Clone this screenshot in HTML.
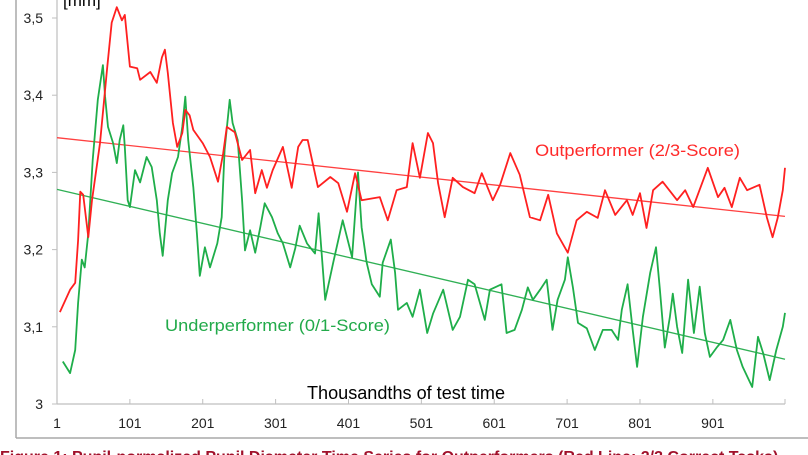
<!DOCTYPE html>
<html><head><meta charset="utf-8"><style>
html,body{margin:0;padding:0;background:#fff;width:808px;height:455px;overflow:hidden}
svg{display:block;font-family:"Liberation Sans",sans-serif}
</style></head><body>
<svg id="chart" width="808" height="455" viewBox="0 0 808 455">
<line x1="16" y1="0" x2="16" y2="438" stroke="#a8a8a8" stroke-width="1.5"/>
<line x1="16" y1="438" x2="808" y2="438" stroke="#a8a8a8" stroke-width="1.5"/>
<text x="63" y="6" font-size="17" fill="#000">[mm]</text>
<g id="yaxis"></g>
<g id="xaxis"></g>
<g id="series"></g>
<text x="535" y="156" font-size="17" textLength="205" lengthAdjust="spacingAndGlyphs" fill="#ff2a2a">Outperformer (2/3-Score)</text>
<text x="165" y="331" font-size="17" textLength="225" lengthAdjust="spacingAndGlyphs" fill="#22aa4a">Underperformer (0/1-Score)</text>
<text x="307" y="399" font-size="18" textLength="198" lengthAdjust="spacingAndGlyphs" fill="#000">Thousandths of test time</text>
<text x="0" y="462" font-size="16" font-weight="bold" fill="#a0102a">Figure 1: Pupil-normalized Pupil Diameter Time Series for Outperformers (Red Line: 2/3 Correct Tasks)</text>
</svg>
<script>
const yTicks = [3, 3.1, 3.2, 3.3, 3.4, 3.5];
const yTickLabels = ["3", "3,1", "3,2", "3,3", "3,4", "3,5"];
const xTicks = [1, 101, 201, 301, 401, 501, 601, 701, 801, 901];
const redTime = [5,19,26,30,33,37,44,49,60,70,76,83,90,94,101,111,115,129,138,145,149,153,160,166,173,177,183,188,201,211,222,229,234,245,255,266,273,282,289,297,311,323,332,338,345,359,376,387,399,410,419,444,455,467,481,489,499,510,517,524,533,544,558,574,584,599,609,623,636,650,664,675,687,702,714,728,743,753,767,783,791,801,810,819,832,852,863,874,894,908,917,927,938,948,965,975,983,990,997,1000];
const redValues = [3.119,3.148,3.157,3.212,3.275,3.271,3.216,3.264,3.338,3.437,3.494,3.514,3.497,3.504,3.437,3.435,3.420,3.430,3.416,3.449,3.459,3.429,3.364,3.333,3.351,3.381,3.374,3.355,3.338,3.320,3.288,3.325,3.359,3.352,3.316,3.329,3.273,3.303,3.280,3.303,3.333,3.280,3.333,3.342,3.342,3.281,3.294,3.286,3.249,3.299,3.264,3.268,3.238,3.277,3.281,3.338,3.293,3.351,3.338,3.286,3.242,3.293,3.281,3.273,3.299,3.264,3.284,3.325,3.297,3.242,3.238,3.271,3.221,3.196,3.238,3.249,3.241,3.277,3.245,3.264,3.245,3.273,3.228,3.277,3.288,3.264,3.277,3.255,3.306,3.268,3.280,3.255,3.293,3.277,3.284,3.242,3.216,3.241,3.277,3.306];
const greenTime = [9,19,26,30,35,39,44,50,57,64,67,71,78,83,87,92,94,98,101,108,115,124,131,138,142,146,153,159,167,173,177,181,188,193,197,204,211,221,227,231,238,242,249,255,259,266,273,280,286,296,304,311,321,328,334,344,355,360,369,380,393,406,414,419,426,433,444,448,459,465,469,481,489,499,509,517,531,544,554,565,574,588,595,611,618,629,639,647,654,664,673,681,688,698,702,709,716,728,739,750,762,771,776,784,791,797,805,815,823,828,835,842,846,852,859,867,875,883,890,897,907,915,925,934,942,955,963,970,979,988,997,1000];
const greenValues = [3.055,3.040,3.070,3.131,3.187,3.177,3.221,3.316,3.394,3.439,3.398,3.359,3.338,3.312,3.342,3.361,3.333,3.264,3.255,3.303,3.287,3.320,3.307,3.264,3.221,3.192,3.264,3.299,3.320,3.359,3.398,3.342,3.281,3.221,3.166,3.203,3.177,3.208,3.242,3.329,3.394,3.364,3.342,3.264,3.199,3.225,3.196,3.229,3.260,3.242,3.221,3.208,3.177,3.202,3.231,3.208,3.195,3.247,3.135,3.183,3.238,3.190,3.300,3.229,3.183,3.155,3.139,3.183,3.213,3.170,3.122,3.131,3.113,3.148,3.092,3.117,3.148,3.096,3.113,3.161,3.155,3.109,3.148,3.155,3.092,3.096,3.122,3.151,3.135,3.148,3.161,3.096,3.135,3.161,3.190,3.151,3.105,3.098,3.070,3.096,3.096,3.083,3.122,3.155,3.096,3.048,3.113,3.170,3.203,3.151,3.073,3.113,3.143,3.100,3.066,3.161,3.092,3.152,3.092,3.061,3.074,3.083,3.109,3.070,3.048,3.022,3.087,3.066,3.031,3.070,3.100,3.118];
const trendTime = [1, 1000];
const redTrend = [3.345, 3.243];
const greenTrend = [3.278, 3.058];

const NS = "http://www.w3.org/2000/svg";
const X0 = 57, X1 = 785, T0 = 1, T1 = 1000;
const Y0 = 404, Y1 = 18, V0 = 3, V1 = 3.5;
function xs(t){ return X0 + (t - T0) * (X1 - X0) / (T1 - T0); }
function ys(v){ return Y0 + (v - V0) * (Y1 - Y0) / (V1 - V0); }
function mk(tag, attrs, parent){ const e = document.createElementNS(NS, tag); for (const k in attrs) e.setAttribute(k, attrs[k]); parent.appendChild(e); return e; }

const yaxis = document.getElementById('yaxis');
const yl = mk('line', {x1: X0, y1: Y0, x2: X0, y2: 0, stroke: '#bfbfbf', 'stroke-width': 1.2}, yaxis);


yTicks.forEach((v, k) => {
  const tk = mk('line', {x1: X0 - 5, y1: ys(v), x2: X0, y2: ys(v), stroke: '#bfbfbf', 'stroke-width': 1}, yaxis);
  
  
  const tx = mk('text', {x: 43, y: ys(v) + 5, 'text-anchor': 'end', 'font-size': 14, fill: '#222'}, yaxis);
  tx.textContent = yTickLabels[k];
  
  
});

const xaxis = document.getElementById('xaxis');
const xl = mk('line', {x1: X0, y1: Y0, x2: X1, y2: Y0, stroke: '#bfbfbf', 'stroke-width': 1.2}, xaxis);


xTicks.concat([T1]).forEach(t => {
  const tk = mk('line', {x1: xs(t), y1: Y0, x2: xs(t), y2: Y0 - 5, stroke: '#bfbfbf', 'stroke-width': 1}, xaxis);
  
  
});
xTicks.forEach(t => {
  const tx = mk('text', {x: xs(t), y: 428, 'text-anchor': 'middle', 'font-size': 14, fill: '#222'}, xaxis);
  tx.textContent = String(t);
  
  
});

const series = document.getElementById('series');
function pts(ts, vs){ return ts.map((t, i) => xs(t).toFixed(1) + ',' + ys(vs[i]).toFixed(1)).join(' '); }
const rt = mk('polyline', {points: pts(trendTime, redTrend), fill: 'none', stroke: '#ff4040', 'stroke-width': 1.3}, series);


const gt = mk('polyline', {points: pts(trendTime, greenTrend), fill: 'none', stroke: '#30b055', 'stroke-width': 1.3}, series);


const gl = mk('polyline', {points: pts(greenTime, greenValues), fill: 'none', stroke: '#1fae4a', 'stroke-width': 1.8, 'stroke-linejoin': 'round'}, series);


const rl = mk('polyline', {points: pts(redTime, redValues), fill: 'none', stroke: '#ff2020', 'stroke-width': 1.8, 'stroke-linejoin': 'round'}, series);


</script>
</body></html>
